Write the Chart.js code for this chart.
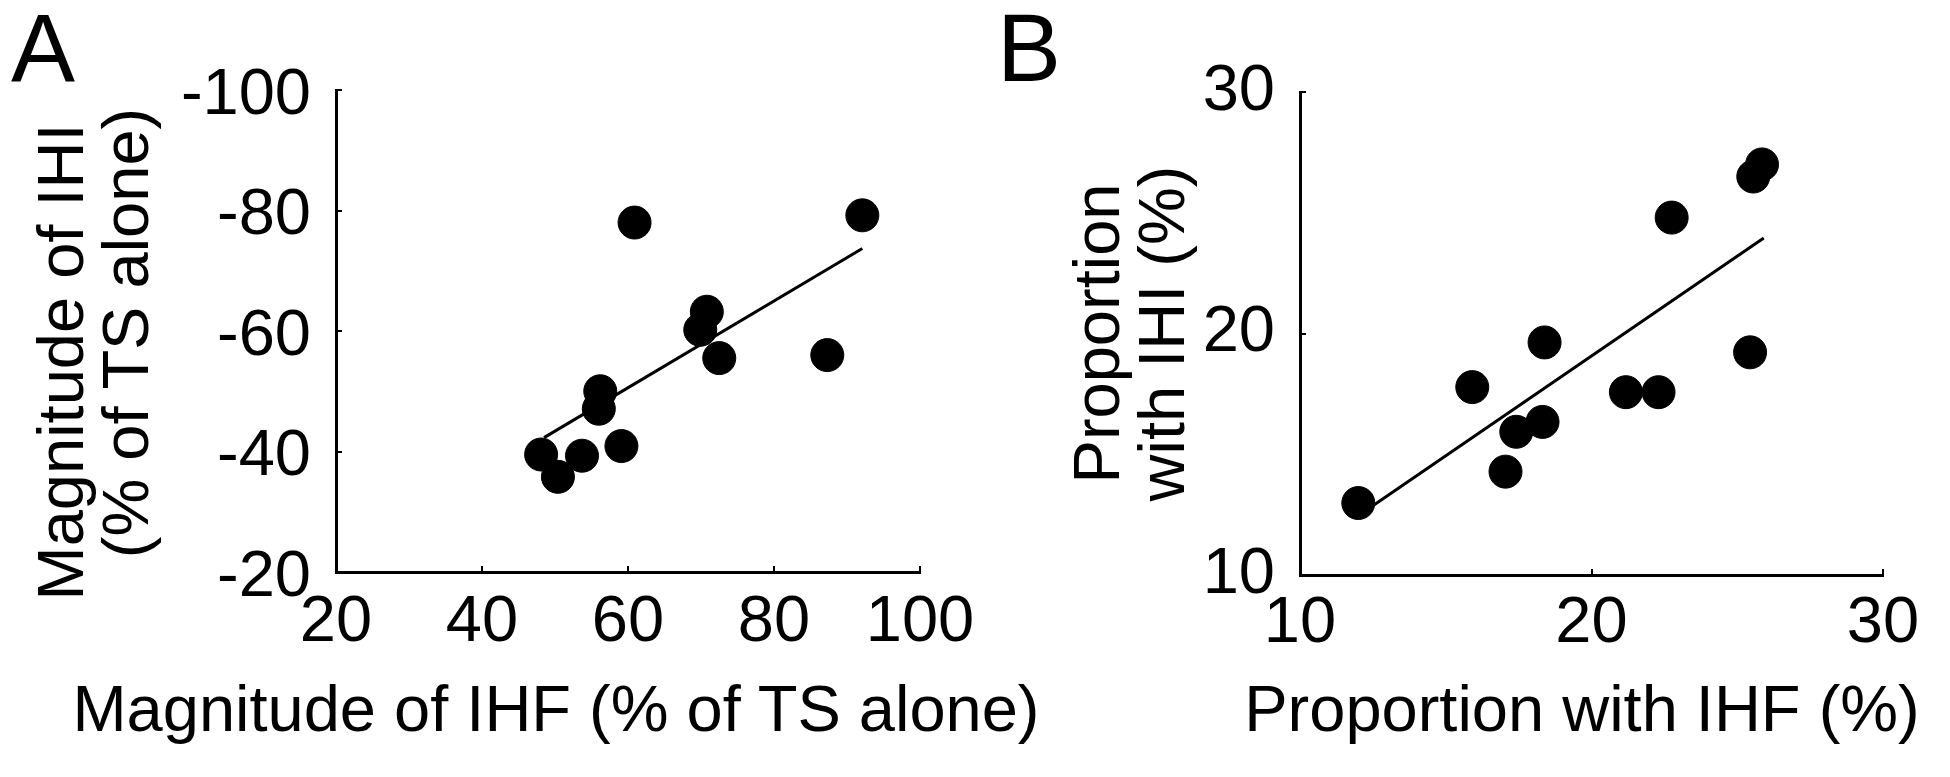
<!DOCTYPE html>
<html>
<head>
<meta charset="utf-8">
<script src="https://cdn.jsdelivr.net/npm/chart.js@4.4.0/dist/chart.umd.min.js"></script>
<style>
html, body { margin: 0; padding: 0; background: #fff; }
#wrap { position: relative; width: 1950px; height: 777px; overflow: hidden; font-family: "Liberation Sans", Arial, sans-serif; color: #000; }
#wrap canvas { position: absolute; top: 0; }
#chartA { left: 0; }
#chartB { left: 975px; }
.panel { position: absolute; top: 0; font-size: 96px; line-height: 1; }
.xtitle { position: absolute; top: 676px; transform: translateX(-50%); white-space: nowrap; font-size: 65px; line-height: 1; }
.ytitle { position: absolute; transform: translate(-50%, -50%) rotate(-90deg); white-space: nowrap; font-size: 65px; line-height: 1; }
</style>
</head>
<body>
<div id="wrap">
  <canvas id="chartA" width="975" height="777"></canvas>
  <canvas id="chartB" width="975" height="777"></canvas>
  <div class="panel" style="left:11px;">A</div>
  <div class="panel" style="left:997px;">B</div>
  <div class="ytitle" style="left:60px; top:362px;">Magnitude of IHI</div>
  <div class="ytitle" style="left:125px; top:333px;">(% of TS alone)</div>
  <div class="xtitle" style="left:556px;">Magnitude of IHF (% of TS alone)</div>
  <div class="xtitle" style="left:1582px;">Proportion with IHF (%)</div>
</div>
<script>
// panel A: magnitude (% of TS alone)
const ihfMagnitude = [60.9, 92.1, 70.8, 69.9, 72.5, 87.3, 56.2, 56.0, 59.1, 48.1, 53.7, 50.4];
const ihiMagnitude = [-78.0, -79.2, -63.2, -60.2, -55.5, -56.0, -50.0, -47.1, -40.9, -39.5, -39.3, -35.8];
const fitAX = [48.5, 92.1];
const fitAY = [-42.3, -73.7];
const ticksAX = [20, 40, 60, 80, 100];
const ticksAY = [-100, -80, -60, -40, -20];

// panel B: proportion (%)
const ihfProportion = [25.85, 25.55, 22.75, 18.39, 25.44, 15.91, 21.18, 22.30, 18.32, 17.42, 17.05, 12.0];
const ihiProportion = [27.0, 26.5, 24.8, 19.63, 19.22, 17.78, 17.57, 17.57, 16.34, 15.93, 14.28, 12.98];
const fitBX = [12.26, 25.91];
const fitBY = [12.67, 23.95];
const ticksB = [10, 20, 30];

Chart.defaults.font.family = '"Liberation Sans", Arial, sans-serif';
Chart.defaults.color = '#000';

function pairs(xs, ys) {
    return xs.map((x, i) => ({ x: x, y: ys[i] }));
}

function axis(opts) {
    const t = opts.ticks;
    return {
        type: 'linear',
        position: opts.position,
        min: Math.min(...t),
        max: Math.max(...t),
        reverse: !!opts.reverse,
        afterBuildTicks: (s) => { s.ticks = t.map(v => ({ value: v })); },
        ticks: {
            padding: opts.pad,
            labelOffset: opts.labelOffset || 0,
            font: { size: 65, lineHeight: 1.2 },
            color: '#000',
            maxRotation: 0,
            autoSkip: false
        },
        // short inward tick marks
        grid: {
            display: true,
            drawOnChartArea: false,
            drawTicks: true,
            tickLength: -6,
            color: '#000',
            lineWidth: 2
        },
        border: { display: true, color: '#000', width: 3 },
        title: opts.title ? {
            display: true,
            text: opts.title,
            font: { size: 65, lineHeight: 1 },
            padding: { top: opts.titlePad, bottom: 0 },
            color: '#000'
        } : { display: false },
        afterFit: (s) => {
            if (opts.width) s.width = opts.width;
            if (opts.height) s.height = opts.height;
            s.paddingLeft = s.paddingRight = s.paddingTop = s.paddingBottom = 0;
        }
    };
}

function makeChart(id, xs, ys, fx, fy, scales, pad) {
    return new Chart(document.getElementById(id), {
        type: 'scatter',
        data: {
            datasets: [{
                label: 'data',
                data: pairs(xs, ys),
                backgroundColor: '#000',
                borderColor: '#000',
                pointRadius: 16.5,
                pointHoverRadius: 16.5,
                order: 0
            }, {
                type: 'line',
                label: 'fit',
                data: pairs(fx, fy),
                borderColor: '#000',
                borderWidth: 3,
                pointRadius: 0,
                fill: false,
                order: 1
            }]
        },
        options: {
            responsive: false,
            animation: false,
            layout: { padding: pad },
            plugins: {
                legend: { display: false },
                tooltip: { enabled: false }
            },
            scales: scales
        }
    });
}

makeChart('chartA', ihfMagnitude, ihiMagnitude, fitAX, fitAY, {
    x: axis({ position: 'bottom', ticks: ticksAX, pad: 18, height: 205 }),
    y: axis({ position: 'left', ticks: ticksAY, reverse: true, pad: 31, labelOffset: 6, width: 336 })
}, { left: 0, right: 55, top: 90, bottom: 0 });

makeChart('chartB', ihfProportion, ihiProportion, fitBX, fitBY, {
    x: axis({ position: 'bottom', ticks: ticksB, pad: 16, height: 202 }),
    y: axis({ position: 'left', ticks: ticksB, pad: 31,
        title: ['Proportion', 'with IHI (%)'], titlePad: 94, width: 325 })
}, { left: 0, right: 67, top: 92, bottom: 0 });
</script>
</body>
</html>
